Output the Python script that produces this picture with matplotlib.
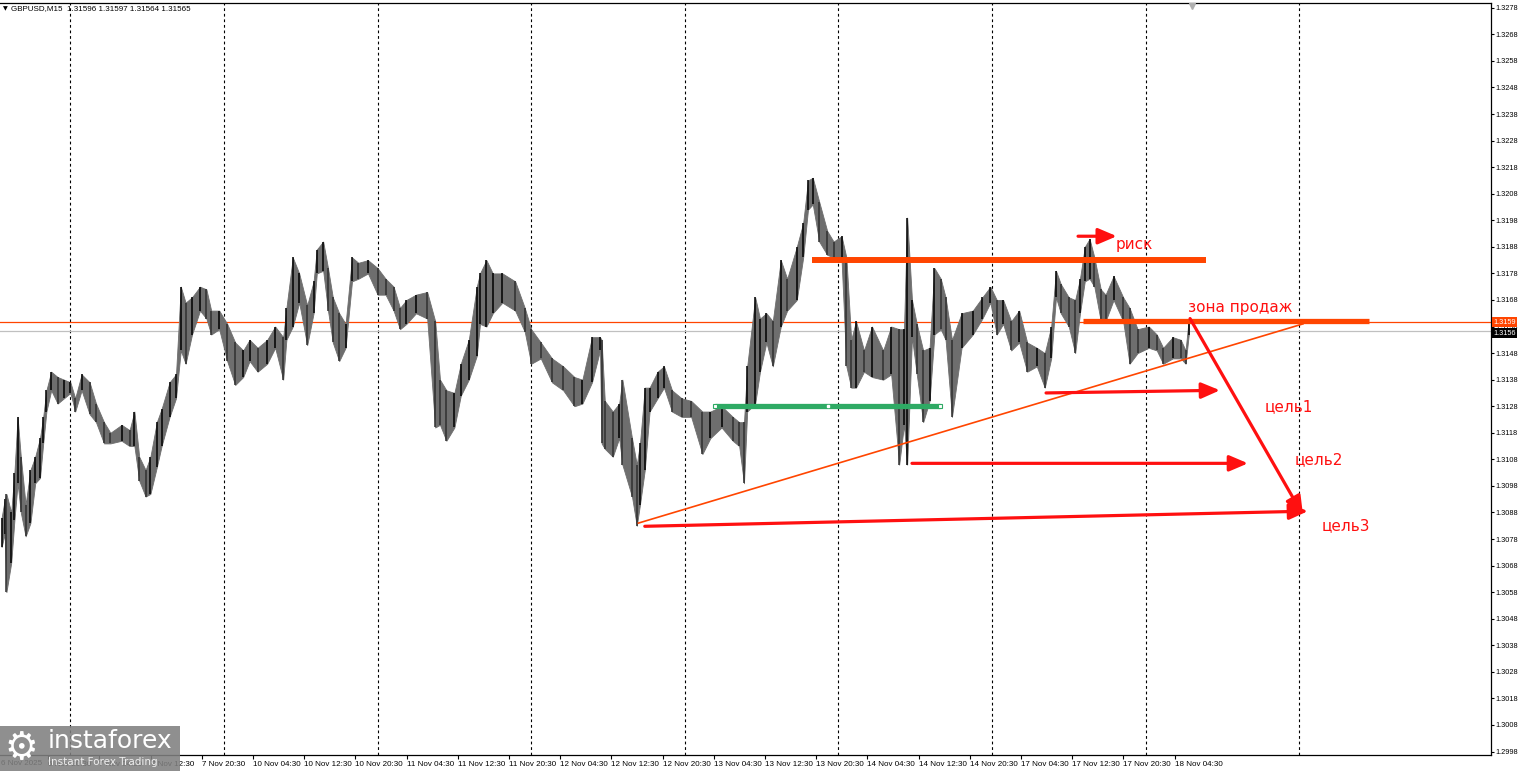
import numpy as np
from matplotlib import pyplot as plt
from matplotlib.patches import Rectangle
from matplotlib.transforms import blended_transform_factory

# GBPUSD M15 bar chart with hand drawn trade levels (MT4 style screenshot)

# ---- price data ----
# each entry is a small group of M15 bars: bar index, group high, group low
bar_idx = [1, 3, 4, 7, 9, 11, 13, 16, 19, 22, 25, 27, 29, 32, 36, 40, 44, 47, 51, 56,
           60, 65, 69, 76, 81, 84, 87, 91, 94, 98, 101, 106, 110, 113, 116, 120, 125, 129, 132, 137,
           142, 147, 152, 156, 161, 167, 172, 177, 179, 183, 187, 192, 196, 198, 202, 205, 208, 212, 216, 220,
           224, 230, 236, 241, 246, 250, 254, 260, 267, 272, 275, 279, 284, 288, 293, 298, 300, 304, 308, 314,
           322, 328, 332, 338, 345, 352, 359, 364, 370, 375, 376, 378, 383, 387, 389, 395, 398, 400, 403, 406,
           411, 415, 420, 426, 432, 439, 444, 451, 458, 462, 465, 467, 472, 475, 479, 483, 488, 492, 498, 502,
           505, 508, 512, 517, 521, 526, 529, 532, 535, 540, 545, 552, 557, 562, 565, 567, 570, 573, 577, 581,
           584, 588, 591, 595, 601, 608, 614, 619, 623, 627, 632, 637, 642, 648, 653, 657, 660, 663, 668, 672,
           675, 678, 681, 684, 688, 691, 696, 702, 706, 711, 718, 723, 727, 733, 738, 741, 743]
bar_high = [1.3086, 1.3093, 1.3095, 1.3088, 1.3103, 1.3124, 1.3109, 1.3091, 1.3104, 1.3109,
            1.3116, 1.3124, 1.3134, 1.3141, 1.3139, 1.3138, 1.3137, 1.3131, 1.3140, 1.3137,
            1.3129, 1.3122, 1.3118, 1.3121, 1.3119, 1.3126, 1.3109, 1.3104, 1.3109, 1.3122,
            1.3127, 1.3137, 1.3140, 1.3173, 1.3167, 1.3169, 1.3173, 1.3172, 1.3164, 1.3164,
            1.3159, 1.3152, 1.3149, 1.3153, 1.3150, 1.3153, 1.3158, 1.3154, 1.3165, 1.3184,
            1.3178, 1.3166, 1.3175, 1.3187, 1.3190, 1.3180, 1.3169, 1.3163, 1.3159, 1.3184,
            1.3182, 1.3183, 1.3180, 1.3176, 1.3173, 1.3165, 1.3168, 1.3170, 1.3171, 1.3160,
            1.3138, 1.3134, 1.3133, 1.3144, 1.3153, 1.3173, 1.3178, 1.3183, 1.3178, 1.3178,
            1.3175, 1.3165, 1.3157, 1.3152, 1.3146, 1.3143, 1.3139, 1.3138, 1.3154, 1.3154,
            1.3153, 1.3130, 1.3126, 1.3129, 1.3138, 1.3116, 1.3106, 1.3114, 1.3135, 1.3135,
            1.3141, 1.3143, 1.3134, 1.3131, 1.3130, 1.3126, 1.3126, 1.3128, 1.3124, 1.3122,
            1.3122, 1.3143, 1.3169, 1.3161, 1.3163, 1.3160, 1.3183, 1.3176, 1.3188, 1.3197,
            1.3213, 1.3214, 1.3205, 1.3194, 1.3190, 1.3192, 1.3184, 1.3153, 1.3160, 1.3149,
            1.3158, 1.3149, 1.3158, 1.3157, 1.3157, 1.3199, 1.3168, 1.3159, 1.3149, 1.3150,
            1.3180, 1.3176, 1.3169, 1.3153, 1.3163, 1.3164, 1.3169, 1.3173, 1.3168, 1.3168,
            1.3160, 1.3164, 1.3152, 1.3150, 1.3148, 1.3158, 1.3179, 1.3174, 1.3169, 1.3168,
            1.3176, 1.3188, 1.3191, 1.3184, 1.3172, 1.3170, 1.3177, 1.3169, 1.3165, 1.3157,
            1.3158, 1.3155, 1.3150, 1.3154, 1.3153, 1.3149, 1.3161]
bar_low = [1.3075, 1.3080, 1.3058, 1.3069, 1.3085, 1.3099, 1.3088, 1.3079, 1.3084, 1.3099,
           1.3101, 1.3114, 1.3126, 1.3134, 1.3129, 1.3131, 1.3133, 1.3126, 1.3134, 1.3125,
           1.3122, 1.3114, 1.3114, 1.3115, 1.3113, 1.3113, 1.3100, 1.3094, 1.3095, 1.3105,
           1.3113, 1.3124, 1.3131, 1.3149, 1.3144, 1.3155, 1.3164, 1.3161, 1.3155, 1.3157,
           1.3145, 1.3136, 1.3139, 1.3145, 1.3141, 1.3144, 1.3150, 1.3138, 1.3153, 1.3158,
           1.3167, 1.3151, 1.3163, 1.3178, 1.3179, 1.3164, 1.3152, 1.3145, 1.3150, 1.3175,
           1.3176, 1.3178, 1.3170, 1.3170, 1.3164, 1.3157, 1.3159, 1.3163, 1.3161, 1.3120,
           1.3121, 1.3115, 1.3120, 1.3132, 1.3138, 1.3147, 1.3159, 1.3158, 1.3163, 1.3167,
           1.3164, 1.3156, 1.3144, 1.3146, 1.3137, 1.3134, 1.3128, 1.3129, 1.3137, 1.3149,
           1.3114, 1.3112, 1.3109, 1.3116, 1.3106, 1.3094, 1.3083, 1.3091, 1.3104, 1.3126,
           1.3131, 1.3135, 1.3126, 1.3124, 1.3124, 1.3110, 1.3116, 1.3120, 1.3115, 1.3113,
           1.3099, 1.3126, 1.3129, 1.3141, 1.3152, 1.3143, 1.3158, 1.3164, 1.3168, 1.3184,
           1.3202, 1.3204, 1.3190, 1.3185, 1.3184, 1.3183, 1.3143, 1.3135, 1.3135, 1.3141,
           1.3139, 1.3138, 1.3140, 1.3106, 1.3121, 1.3106, 1.3154, 1.3140, 1.3122, 1.3130,
           1.3155, 1.3157, 1.3153, 1.3124, 1.3150, 1.3155, 1.3161, 1.3167, 1.3155, 1.3159,
           1.3149, 1.3152, 1.3141, 1.3143, 1.3135, 1.3146, 1.3169, 1.3163, 1.3158, 1.3148,
           1.3163, 1.3175, 1.3176, 1.3173, 1.3160, 1.3160, 1.3168, 1.3160, 1.3144, 1.3148,
           1.3150, 1.3149, 1.3144, 1.3146, 1.3146, 1.3144, 1.3155]

# axis labels
time_labels = ["6 Nov 2025", "6 Nov 20:30", "7 Nov 04:30", "7 Nov 12:30", "7 Nov 20:30",
               "10 Nov 04:30", "10 Nov 12:30", "10 Nov 20:30", "11 Nov 04:30", "11 Nov 12:30",
               "11 Nov 20:30", "12 Nov 04:30", "12 Nov 12:30", "12 Nov 20:30", "13 Nov 04:30",
               "13 Nov 12:30", "13 Nov 20:30", "14 Nov 04:30", "14 Nov 12:30", "14 Nov 20:30",
               "17 Nov 04:30", "17 Nov 12:30", "17 Nov 20:30", "18 Nov 04:30"]
time_label_bars = [-1.9 + 32 * i for i in range(len(time_labels))]   # one label every 8 hours
day_start_bars = [44, 140, 236, 332, 428, 524, 620, 716, 812]        # dashed day separators
price_ticks = [round(1.2998 + 0.001 * k, 4) for k in range(29)]

# current quote (MT4 shows the axis boxes truncated to 4 digits)
ask_line = 1.31596
bid_line = 1.31565
ask_text = "1.3159"
bid_text = "1.3156"

# ---- hand drawn levels ----
resist_level = (507.5, 753.8, 1.3183)      # x from, x to, price
sell_zone = (677, 855.6, 1.3160)
green_level = (447, 587.5, 1.3128)
trend_line = ((399, 1.3084), (814.4, 1.3159))
arrows = [((673.8, 1.3192), (698, 1.3192)),          # риск
          ((653.8, 1.3133), (762.5, 1.3134)),        # цель1
          ((570, 1.31065), (780, 1.31065)),          # цель2
          ((403, 1.30828), (817.5, 1.30885)),        # цель3
          ((743.8, 1.3161), (814.4, 1.3087))]        # move down
notes = [("риск", 697.5, 1.3189), ("зона продаж", 742.5, 1.3165),
         ("цель1", 790.6, 1.3128), ("цель2", 809.4, 1.3108), ("цель3", 826, 1.3083)]

ORANGE = '#ff4500'
RED = '#ff1010'
GREEN = '#2eaa64'
AXFONT = dict(family='Liberation Sans', size=5.8)
YFONT = dict(family='Liberation Sans', size=5.3)

plt.rcParams.update({'font.family': ['DejaVu Sans']})
fig = plt.figure(figsize=(15.19, 7.71), dpi=100)
ax = fig.add_axes([0, 16 / 771, 1491 / 1519, 752 / 771])
ax.set_xlim(0, 931.9)
ax.set_ylim(1.29967, 1.32798)

# day separators
for b in day_start_bars:
    ax.axvline(b, color='black', lw=0.8, ls=(0, (2.5, 2.5)), zorder=1)

# current price lines
ax.axhline(ask_line, color=ORANGE, lw=0.9, zorder=2)
ax.axhline(bid_line, color='#c0c0c0', lw=0.9, zorder=2)

# bars: grey range band joining the groups, dark strokes for each group
ax.fill_between(bar_idx, bar_low, bar_high, color='#6e6e6e', lw=0.6, zorder=3)
mids = [(h + l) / 2 for h, l in zip(bar_high, bar_low)]
for i, (b, h, l) in enumerate(zip(bar_idx, bar_high, bar_low)):
    up = i == 0 or mids[i] >= mids[i - 1]
    ax.vlines(b, l, h, color='black' if up else '#303030', lw=1.1, zorder=3)

# levels
ax.hlines(resist_level[2], resist_level[0], resist_level[1], color=ORANGE, lw=4.3, zorder=4)
ax.hlines(sell_zone[2], sell_zone[0], sell_zone[1], color=ORANGE, lw=3.8, zorder=4)
ax.hlines(green_level[2], green_level[0], green_level[1], color=GREEN, lw=3.8, zorder=4)
ax.plot([green_level[0], green_level[1]], [green_level[2], green_level[2]], ls='none', marker='s',
        ms=3.5, mfc='white', mec=GREEN, mew=0.8, zorder=5)
ax.plot([(green_level[0] + green_level[1]) / 2], [green_level[2]], marker='s', ms=2,
        color='white', zorder=5)
ax.plot([trend_line[0][0], trend_line[1][0]], [trend_line[0][1], trend_line[1][1]],
        color=ORANGE, lw=1.2, zorder=4)

for (x0, y0), (x1, y1) in arrows:
    ax.annotate('', xy=(x1, y1), xytext=(x0, y0),
                arrowprops=dict(arrowstyle='-|>,head_length=0.75,head_width=0.32', color=RED,
                                lw=2.3, mutation_scale=15, shrinkA=0, shrinkB=0), zorder=6)

for txt, x, y in notes:
    ax.text(x, y, txt, color=RED, fontsize=11, ha='left', va='center', zorder=6)

# chart shift marker
ax.plot([745], [1.32785], marker='v', ms=5, color='#b0b0b0', clip_on=False, zorder=6)

# frame
ax.spines['left'].set_visible(False)
for s in ['top', 'right', 'bottom']:
    ax.spines[s].set_linewidth(0.9)

# price axis on the right
ax.yaxis.tick_right()
ax.set_yticks(price_ticks)
ax.set_yticklabels(['%.4f' % p for p in price_ticks], fontdict=YFONT)
ax.tick_params(axis='y', direction='out', length=2.5, width=0.8, pad=1)

# time axis
in_range = [(b, t) for b, t in zip(time_label_bars, time_labels) if b > 0]
ax.set_xticks([b for b, t in in_range])
ax.set_xticklabels([t for b, t in in_range], fontdict=AXFONT)
for lbl in ax.get_xticklabels():
    lbl.set_horizontalalignment('left')
ax.tick_params(axis='x', direction='out', length=3, width=0.8, pad=1.5)
ax.text(0.5, -0.006, time_labels[0], transform=blended_transform_factory(ax.transData, ax.transAxes),
        fontdict=AXFONT, ha='left', va='top', clip_on=False)

# price boxes on the axis
tr = blended_transform_factory(ax.transAxes, ax.transData)
ax.text(1.0015, ask_line, ask_text, transform=tr, fontdict=YFONT, color='white',
        va='center', ha='left', bbox=dict(boxstyle='square,pad=0.2', fc=ORANGE, ec='none'),
        clip_on=False, zorder=7)
ax.text(1.0015, bid_line - 0.0001, bid_text, transform=tr, fontdict=YFONT, color='white',
        va='center', ha='left', bbox=dict(boxstyle='square,pad=0.2', fc='black', ec='none'),
        clip_on=False, zorder=7)

# header
fig.text(3 / 1519, 1 - 9 / 771, '▼', fontsize=4.5, va='center', ha='left')
fig.text(11 / 1519, 1 - 9 / 771, 'GBPUSD,M15  1.31596 1.31597 1.31564 1.31565',
         fontdict=AXFONT, va='center', ha='left')

# watermark
fig.patches.append(Rectangle((0, 0), 180 / 1519, 45 / 771, transform=fig.transFigure,
                             fc='#808080', ec='none', alpha=0.88, zorder=10))
fig.text(4 / 1519, 22 / 771, '⚙', fontsize=27, color='white', va='center', ha='left', zorder=11)
fig.text(48 / 1519, 30 / 771, 'instaforex', fontsize=18, color='white', va='center', ha='left',
         zorder=11)
fig.text(48 / 1519, 9 / 771, 'Instant Forex Trading', fontsize=7.5, color='#eeeeee', va='center',
         ha='left', zorder=11)

fig.savefig('out.png', dpi=100)
